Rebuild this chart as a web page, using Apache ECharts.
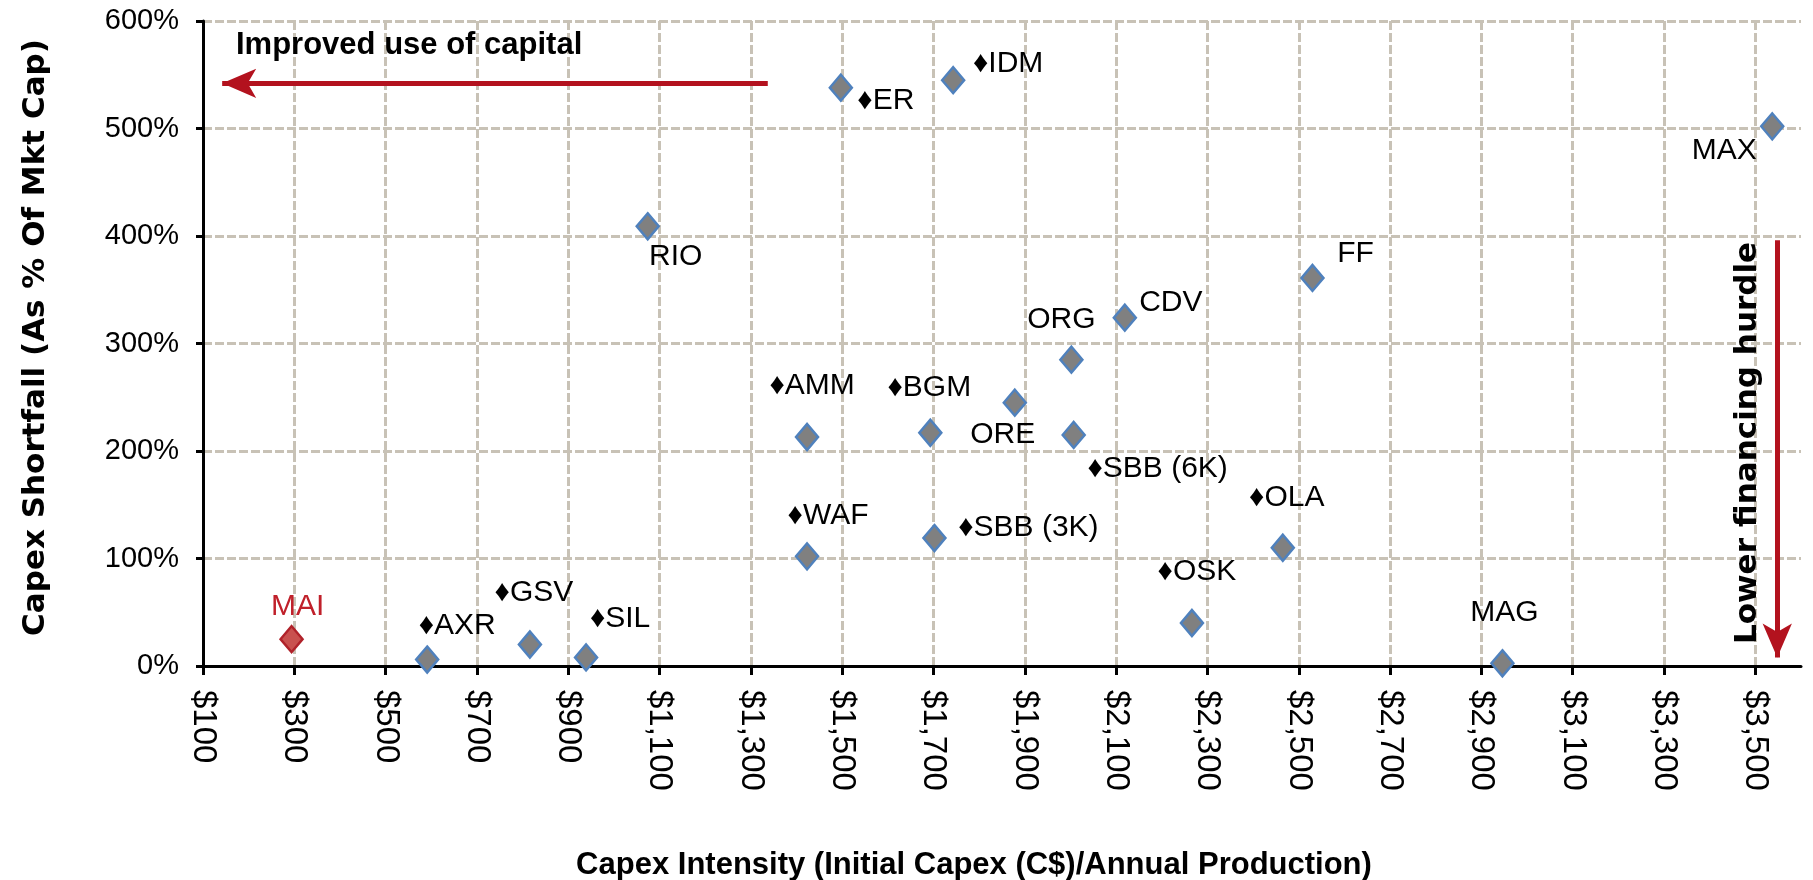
<!DOCTYPE html>
<html><head><meta charset="utf-8">
<script src="https://cdn.jsdelivr.net/npm/echarts@6/dist/echarts.min.js"></script>
<style>html,body{margin:0;padding:0;background:#fff}#c{width:1813px;height:880px}</style>
</head><body><div id="c"></div>
<script>
// ---- data ----
const names = ['MAI','AXR','GSV','SIL','RIO','ER','IDM','AMM','BGM','ORE','ORG','SBB (6K)','CDV','FF','WAF','SBB (3K)','OSK','OLA','MAG','MAX'];
const capexIntensity = [294,591,816,939,1074,1497,1743,1423,1693,1878,2002,2007,2119,2530,1423,1702,2266,2465,2946,3537];
const capexShortfall = [25,6,20,8,409,538,545,213,217,245,285,215,324,361,102,119,40,110,2.5,502];
const keyedLabels = ['AXR','GSV','SIL','ER','IDM','AMM','BGM','SBB (6K)','WAF','SBB (3K)','OSK','OLA'];
const highlighted = ['MAI'];
const xTickValues = [100,300,500,700,900,1100,1300,1500,1700,1900,2100,2300,2500,2700,2900,3100,3300,3500];
const xTitle = 'Capex Intensity (Initial Capex (C$)/Annual Production)';
const yTitle = 'Capex Shortfall (As % Of Mkt Cap)';
const leftNote = 'Improved use of capital';
const downNote = 'Lower financing hurdle';

// ---- layout (label placement relative to each marker, px) ----
const labelOffset = {
  'MAI':[6,-32],'AXR':[30,-34],'GSV':[4,-52],'SIL':[34,-39],'RIO':[28,30],'ER':[45,13],'IDM':[55,-16],
  'AMM':[5,-51],'BGM':[-1,-45],'ORE':[-12,32],'ORG':[-10,-40],'SBB (6K)':[84,34],'CDV':[46,-15],
  'FF':[43,-24],'WAF':[21,-41],'SBB (3K)':[94,-10],'OSK':[5,-51],'OLA':[4,-50],'MAG':[2,-51],'MAX':[-48,24]
};

const RED = '#B3121E';
const points = names.map((n, i) => {
  const hi = highlighted.includes(n);
  return {
    name: n,
    value: [capexIntensity[i], capexShortfall[i]],
    itemStyle: hi ? {color:'#C9514F', borderColor:'#B0222A'} : undefined,
    label: {
      formatter: (keyedLabels.includes(n) ? '\u2666' : '') + n,
      offset: labelOffset[n],
      color: hi ? '#C0202A' : '#000'
    }
  };
});

const fmtMoney = v => '$' + v.toLocaleString('en-US');

const chart = echarts.init(document.getElementById('c'));
chart.setOption({
  animation: false,
  backgroundColor: '#fff',
  grid: {left: 203, right: 12, top: 21, bottom: 214, containLabel: false, outerBoundsMode: 'none'},
  xAxis: {
    type: 'value', min: 100, max: 3600,
    name: xTitle, nameLocation: 'middle', nameGap: 184,
    nameTextStyle: {fontFamily: 'Liberation Sans, Arial, sans-serif', fontWeight: 'bold', fontSize: 31, color: '#000', padding: [0, 56, 0, 0]},
    axisLine: {onZero: false, lineStyle: {color: '#000', width: 3}},
    axisTick: {show: true, length: 9, customValues: xTickValues, lineStyle: {color: '#000', width: 3}},
    axisLabel: {customValues: xTickValues, rotate: -90, margin: 24, formatter: fmtMoney,
      fontFamily: 'Liberation Sans, Arial, sans-serif', fontSize: 33, color: '#000'},
    splitLine: {show: true, lineStyle: {color: '#C8C2B6', width: 3, type: [9, 3]}}
  },
  yAxis: {
    type: 'value', min: 0, max: 600, interval: 100,
    name: yTitle, nameLocation: 'middle', nameGap: 152, nameRotate: 90,
    nameTextStyle: {fontFamily: 'DejaVu Sans, sans-serif', fontWeight: 'bold', fontSize: 31, color: '#000', padding: [0, 0, 0, 12]},
    axisLine: {lineStyle: {color: '#000', width: 3}},
    axisTick: {show: true, length: 7, lineStyle: {color: '#000', width: 3}},
    axisLabel: {formatter: '{value}%', margin: 24, fontFamily: 'Liberation Sans, Arial, sans-serif', fontSize: 29, color: '#000'},
    splitLine: {show: true, lineStyle: {color: '#C8C2B6', width: 3, type: [9, 3]}}
  },
  graphic: [
    {type: 'text', left: 236, top: 30, z: 10,
      style: {text: leftNote, font: 'bold 31px "Liberation Sans", Arial, sans-serif', fill: '#000'}},
    {type: 'text', x: 1748, y: 443, rotation: Math.PI / 2, z: 10,
      style: {text: downNote, font: 'bold 31px "DejaVu Sans", sans-serif', fill: '#000', align: 'center', verticalAlign: 'middle'}}
  ],
  series: [{
    type: 'scatter',
    symbol: 'diamond',
    symbolSize: [22, 26],
    itemStyle: {color: '#808080', borderColor: '#4F81BD', borderWidth: 2.5, opacity: 1},
    label: {show: true, position: 'inside', align: 'center', verticalAlign: 'middle',
      fontFamily: 'Liberation Sans, Arial, sans-serif', fontSize: 30, color: '#000'},
    emphasis: {disabled: true},
    data: points,
    markLine: {
      silent: true, animation: false,
      symbol: ['none', 'arrow'], symbolSize: [22, 34],
      label: {show: false},
      lineStyle: {color: RED, width: 5, type: 'solid'},
      data: [
        [{coord: [1337, 542]}, {coord: [142, 542]}],
        [{coord: [3548, 396]}, {coord: [3548, 8]}]
      ]
    }
  }]
});
</script></body></html>
